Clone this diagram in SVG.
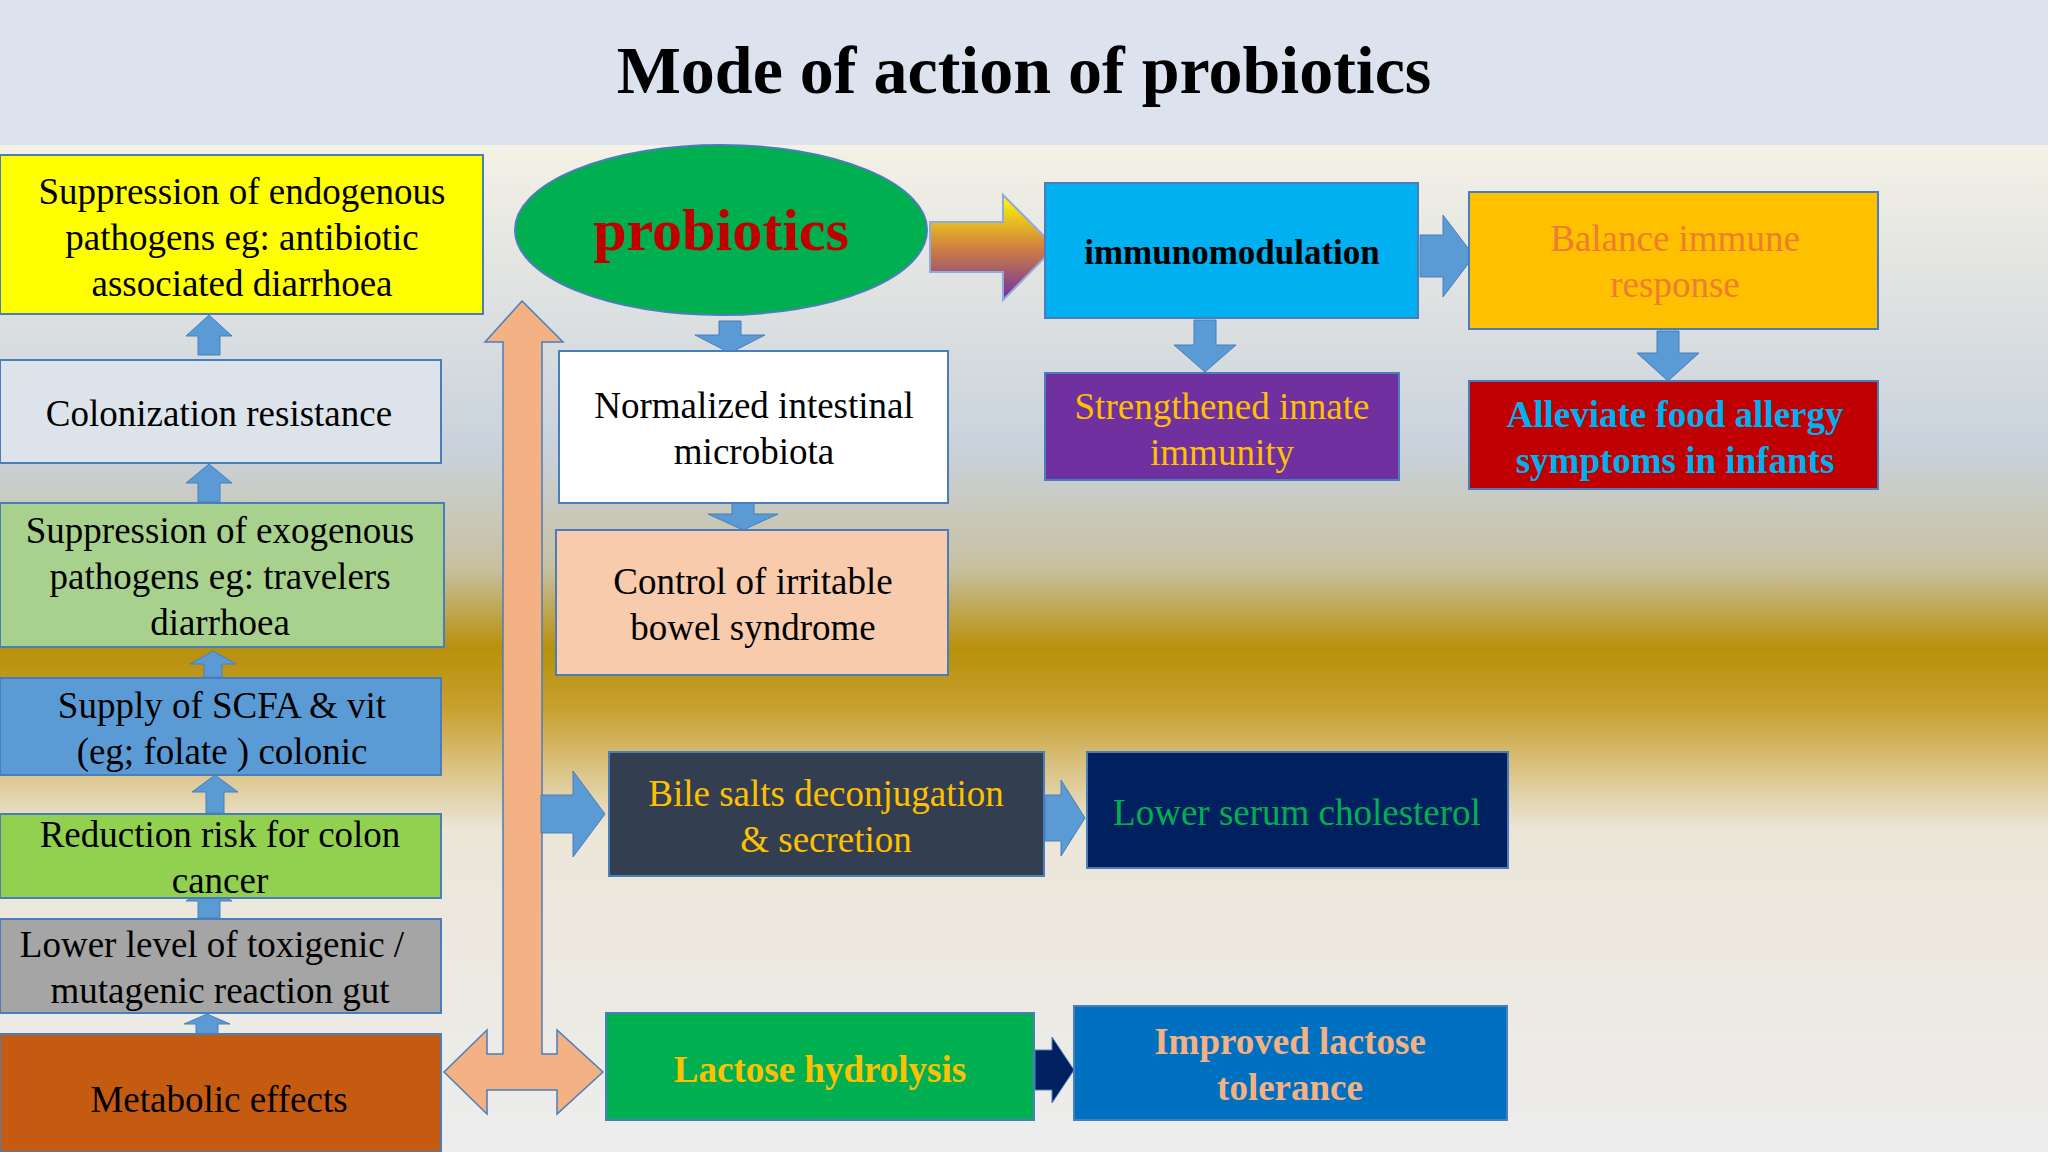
<svg xmlns="http://www.w3.org/2000/svg" width="2048" height="1152" viewBox="0 0 2048 1152">
<defs>
<linearGradient id="bg" x1="0" y1="0" x2="0" y2="1">
<stop offset="0" stop-color="#f4f1e6"/>
<stop offset="0.3" stop-color="#c9d2dc"/>
<stop offset="0.42" stop-color="#c8c0a0"/>
<stop offset="0.5" stop-color="#b8900a"/>
<stop offset="0.56" stop-color="#c8a030"/>
<stop offset="0.68" stop-color="#ece6d8"/>
<stop offset="1" stop-color="#ededee"/>
</linearGradient>
<linearGradient id="ga" x1="0" y1="0" x2="0" y2="1">
<stop offset="0" stop-color="#ffff00"/>
<stop offset="0.5" stop-color="#d08040"/>
<stop offset="1" stop-color="#7030a0"/>
</linearGradient>
<style>
.b{stroke:#4a7ebb;stroke-width:2}
.t{font-family:"Liberation Serif",serif;font-size:37px;text-anchor:middle}
.bd{font-weight:bold}
.ar{fill:#5b9bd5;stroke:#4a7ebb;stroke-width:1}
</style>
</defs>
<rect x="0" y="0" width="2048" height="1152" fill="#ececec"/>
<rect x="0" y="145" width="2048" height="1007" fill="url(#bg)"/>
<rect x="0" y="0" width="2048" height="145" fill="#dde3ee"/>
<text x="1024" y="93" font-family="Liberation Serif,serif" font-size="68" font-weight="bold" text-anchor="middle">Mode of action of probiotics</text>

<g id="connectors">
<polygon fill="#f4b183" stroke="#4a7ebb" stroke-width="1.5" points="522,301 563,342 542,342 542,1054 557,1054 557,1030 603,1072 557,1114 557,1090 487,1090 487,1114 444,1072 487,1030 487,1054 503,1054 503,342 485,342"/>
<polygon fill="url(#ga)" stroke="#8faadc" stroke-width="2" points="930,222 1003,222 1003,195 1055,247 1003,300 1003,272 930,272"/>
<polygon class="ar" points="209,315 232,336 220,336 220,355 198,355 198,336 186,336"/>
<polygon class="ar" points="209,464 232,483 220,483 220,502 198,502 198,483 186,483"/>
<polygon class="ar" points="213,651 236,664 222,664 222,677 204,677 204,664 190,664"/>
<polygon class="ar" points="215,775 238,792 224,792 224,813 206,813 206,792 192,792"/>
<polygon class="ar" points="209,888 232,901 220,901 220,918 198,918 198,901 186,901"/>
<polygon class="ar" points="207,1014 230,1024 218,1024 218,1034 196,1034 196,1024 184,1024"/>
<polygon class="ar" points="719,321 741,321 741,335 765,335 730,353 695,335 719,335"/>
<polygon class="ar" points="732,503 754,503 754,514 778,514 743,530 708,514 732,514"/>
<polygon class="ar" points="1194,320 1216,320 1216,345 1236,345 1205,372 1174,345 1194,345"/>
<polygon class="ar" points="1657,331 1679,331 1679,353 1699,353 1668,381 1637,353 1657,353"/>
<polygon class="ar" points="541,795 573,795 573,771 605,814 573,857 573,833 541,833"/>
<polygon class="ar" points="1420,235 1443,235 1443,215 1474,256 1443,297 1443,277 1420,277"/>
<polygon class="ar" points="1045,795 1061,795 1061,780 1085,818 1061,856 1061,841 1045,841"/>
<polygon fill="#002060" stroke="#4a7ebb" points="1035,1050 1052,1050 1052,1037 1074,1070 1052,1103 1052,1090 1035,1090"/>
</g>

<g id="n1"><rect class="b" x="0" y="155" width="483" height="159" fill="#ffff00"/>
<text class="t" x="242" y="204">Suppression of endogenous</text><text class="t" x="242" y="250">pathogens eg: antibiotic</text><text class="t" x="242" y="296">associated diarrhoea</text></g>
<g id="n2"><rect class="b" x="0" y="360" width="441" height="103" fill="#dde3ea"/>
<text class="t" x="219" y="426">Colonization resistance</text></g>
<g id="n3"><rect class="b" x="0" y="503" width="444" height="144" fill="#a9d18e"/>
<text class="t" x="220" y="543">Suppression of exogenous</text><text class="t" x="220" y="589">pathogens eg: travelers</text><text class="t" x="220" y="635">diarrhoea</text></g>
<g id="n4"><rect class="b" x="0" y="678" width="441" height="97" fill="#5b9bd5"/>
<text class="t" x="222" y="718">Supply of SCFA &amp; vit</text><text class="t" x="222" y="764">(eg; folate ) colonic</text></g>
<g id="n5"><rect class="b" x="0" y="814" width="441" height="84" fill="#92d050"/>
<text class="t" x="220" y="847">Reduction risk for colon</text><text class="t" x="220" y="893">cancer</text></g>
<g id="n6"><rect class="b" x="0" y="919" width="441" height="94" fill="#a5a5a5"/>
<text class="t" x="212" y="957">Lower level of toxigenic /</text><text class="t" x="220" y="1003">mutagenic reaction gut</text></g>
<g id="n7"><rect class="b" x="0" y="1034" width="441" height="118" fill="#c55a11"/>
<text class="t" x="219" y="1112">Metabolic effects</text></g>
<g id="n8"><ellipse cx="721" cy="230" rx="206" ry="85" fill="#00b050" stroke="#4a7ebb" stroke-width="2"/>
<text class="t bd" x="721" y="250" style="font-size:60px" fill="#c00000">probiotics</text></g>
<g id="n9"><rect class="b" x="559" y="351" width="389" height="152" fill="#ffffff"/>
<text class="t" x="754" y="418">Normalized intestinal</text><text class="t" x="754" y="464">microbiota</text></g>
<g id="n10"><rect class="b" x="556" y="530" width="392" height="145" fill="#f8cbad"/>
<text class="t" x="753" y="594">Control of irritable</text><text class="t" x="753" y="640">bowel syndrome</text></g>
<g id="n11"><rect class="b" x="1045" y="183" width="373" height="135" fill="#00b0f0"/>
<text class="t bd" x="1232" y="264" style="font-size:35px">immunomodulation</text></g>
<g id="n12"><rect class="b" x="1469" y="192" width="409" height="137" fill="#ffc000"/>
<text class="t" x="1675" y="251" fill="#ed7d31">Balance immune</text><text class="t" x="1675" y="297" fill="#ed7d31">response</text></g>
<g id="n13"><rect class="b" x="1045" y="373" width="354" height="107" fill="#7030a0"/>
<text class="t" x="1222" y="419" fill="#ffc000">Strengthened innate</text><text class="t" x="1222" y="465" fill="#ffc000">immunity</text></g>
<g id="n14"><rect class="b" x="1469" y="381" width="409" height="108" fill="#c00000"/>
<text class="t bd" x="1675" y="427" fill="#00b0f0">Alleviate food allergy</text><text class="t bd" x="1675" y="473" fill="#00b0f0">symptoms in infants</text></g>
<g id="n15"><rect class="b" x="609" y="752" width="435" height="124" fill="#333f50"/>
<text class="t" x="826" y="806" fill="#ffc000">Bile salts deconjugation</text><text class="t" x="826" y="852" fill="#ffc000">&amp; secretion</text></g>
<g id="n16"><rect class="b" x="1087" y="752" width="421" height="116" fill="#002060"/>
<text class="t" x="1297" y="825" fill="#00b050">Lower serum cholesterol</text></g>
<g id="n17"><rect class="b" x="606" y="1013" width="428" height="107" fill="#00b050"/>
<text class="t bd" x="820" y="1082" fill="#ffc000">Lactose hydrolysis</text></g>
<g id="n18"><rect class="b" x="1074" y="1006" width="433" height="114" fill="#0070c0"/>
<text class="t bd" x="1290" y="1054" fill="#f4b183">Improved lactose</text><text class="t bd" x="1290" y="1100" fill="#f4b183">tolerance</text></g>
</svg>
